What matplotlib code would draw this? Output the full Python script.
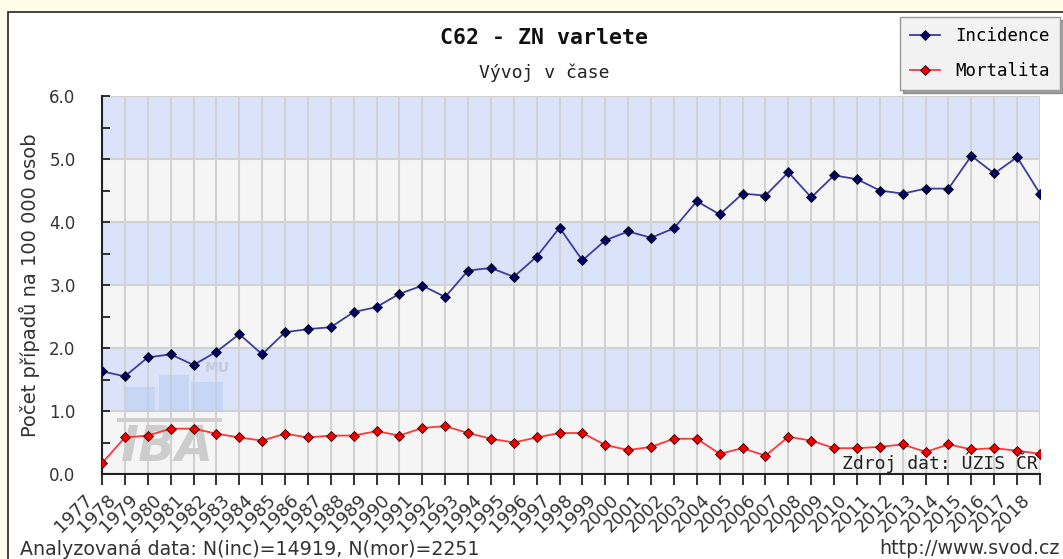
import matplotlib

matplotlib.use("Agg")
import matplotlib.pyplot as plt
import matplotlib.transforms as mtransforms
from matplotlib.patches import Rectangle

# ---------------------------------------------------------------------------
# Data
# ---------------------------------------------------------------------------

years = list(range(1977, 2019))

incidence = [
    1.63, 1.55, 1.85, 1.90, 1.73, 1.94, 2.22, 1.90, 2.25, 2.30,
    2.33, 2.57, 2.65, 2.86, 2.99, 2.81, 3.23, 3.27, 3.13, 3.45,
    3.91, 3.39, 3.71, 3.85, 3.75, 3.90, 4.33, 4.12, 4.45, 4.42,
    4.79, 4.39, 4.74, 4.68, 4.50, 4.45, 4.53, 4.53, 5.05, 4.77,
    5.03, 4.45,
]

mortality = [
    0.17, 0.58, 0.61, 0.72, 0.72, 0.64, 0.58, 0.53, 0.64, 0.58,
    0.61, 0.61, 0.68, 0.61, 0.73, 0.76, 0.65, 0.56, 0.50, 0.58,
    0.65, 0.65, 0.46, 0.38, 0.43, 0.56, 0.56, 0.32, 0.41, 0.29,
    0.59, 0.53, 0.41, 0.41, 0.43, 0.47, 0.35, 0.47, 0.39, 0.41,
    0.37, 0.32,
]

y_ticks = [0, 1, 2, 3, 4, 5, 6]
y_minor = [0.5, 1.5, 2.5, 3.5, 4.5, 5.5]

title = "C62 - ZN varlete"
subtitle = "Vývoj v čase"
y_label = "Počet případů na 100 000 osob"
source = "Zdroj dat: ÚZIS ČR"
footer_left = "Analyzovaná data: N(inc)=14919, N(mor)=2251"
footer_right = "http://www.svod.cz"

# ---------------------------------------------------------------------------
# Figure
# ---------------------------------------------------------------------------

W, H = 1063, 559
fig = plt.figure(figsize=(W / 100, H / 100), dpi=100)
fig.patch.set_facecolor("#fdfde9")

# white panel with dark frame (runs off the right / bottom edge)
fig.patches.append(
    Rectangle((8 / W, -0.2), 1.2, 0.2 + 1 - 12 / H, transform=fig.transFigure,
              facecolor="white", edgecolor="#222", linewidth=1.2, zorder=-10)
)

ax = fig.add_axes([102 / W, 1 - 474 / H, (1040 - 102) / W, (474 - 96) / H])
ax.set_facecolor("#f5f5f5")

# alternating bands
for i in range(6):
    ax.axhspan(i, i + 1, color="#dbe3fb" if i % 2 else "#f5f5f5", zorder=0, lw=0)

x = list(range(len(years)))
ax.plot(x, incidence, color="#3c3ca0", lw=1.3, marker="D", ms=5.5,
        mfc="#000060", mec="#111", mew=0.6, zorder=3, label="Incidence")
ax.plot(x, mortality, color="#ff3838", lw=1.3, marker="D", ms=5.5,
        mfc="#ee0000", mec="#300", mew=0.6, zorder=3, label="Mortalita")

ax.set_xlim(0, len(years) - 1)
ax.set_ylim(0, 6)

ax.set_axisbelow(True)
ax.grid(True, color="#d2d2d2", lw=1.5)

ax.set_yticks(y_ticks)
ax.set_yticklabels([f"{v:.1f}" for v in y_ticks])
ax.set_yticks(y_minor, minor=True)
ax.tick_params(axis="y", which="both", direction="in", length=6, width=1.3,
               color="#222", pad=19, labelsize=12, labelcolor="#333")

ax.set_xticks(x)
ax.set_xticklabels([str(y) for y in years], rotation=45, ha="right", va="top")
ax.tick_params(axis="x", direction="out", length=8, width=1.3, color="#222",
               pad=4, labelsize=13, labelcolor="#333")
offset = mtransforms.ScaledTranslation(-6 / 100, 0, fig.dpi_scale_trans)
for lbl in ax.get_xticklabels():
    lbl.set_transform(lbl.get_transform() + offset)

for side in ["top", "right"]:
    ax.spines[side].set_visible(False)
ax.spines["left"].set_color("#222")
ax.spines["left"].set_linewidth(1.5)
ax.spines["bottom"].set_color("#222")
ax.spines["bottom"].set_linewidth(1.5)

# IBA watermark (decorative)
wm = ax.transAxes
for bx, bw, bh in [(0.025, 0.031, 0.066), (0.061, 0.032, 0.098), (0.095, 0.034, 0.079)]:
    ax.add_patch(Rectangle((bx, 0.164), bw, bh, transform=wm,
                           facecolor="#b6cbf0", alpha=0.5, lw=0, zorder=1))
ax.add_patch(Rectangle((0.016, 0.137), 0.112, 0.011, transform=wm,
                       facecolor="#cfcfcf", lw=0, zorder=1))
ax.text(0.070, 0.008, "IBA", transform=wm, fontsize=35, fontweight="bold",
        fontstyle="italic", color="#cdcdcd", ha="center", va="bottom", zorder=1)
ax.text(0.123, 0.28, "MU", transform=wm, fontsize=10, fontweight="bold",
        color="#c2cadb", ha="center", va="center", zorder=1)

ax.text(0.998, 0.03, source, transform=ax.transAxes, ha="right", va="center",
        family="DejaVu Sans Mono", fontsize=13, color="#222", zorder=4)

# titles
fig.text(544 / W, 1 - 38 / H, title, ha="center", va="center",
         family="DejaVu Sans Mono", fontweight="bold", fontsize=15.5, color="#111")
fig.text(544 / W, 1 - 73 / H, subtitle, ha="center", va="center",
         family="DejaVu Sans Mono", fontsize=13, color="#222")

fig.text(30 / W, 1 - 285 / H, y_label, rotation=90, ha="center", va="center",
         fontsize=14, color="#333")

fig.text(20 / W, 1 - 549 / H, footer_left, ha="left", va="center",
         fontsize=13.7, color="#333")
fig.text(1060 / W, 1 - 549 / H, footer_right, ha="right", va="center",
         fontsize=13.7, color="#333")

leg = fig.legend(loc="upper left", bbox_to_anchor=(900 / W, 1 - 17 / H),
                 prop={"family": "DejaVu Sans Mono", "size": 12.5},
                 frameon=True, fancybox=False, shadow=True, borderaxespad=0,
                 handlelength=1.7, borderpad=0.6, labelspacing=0.95,
                 handletextpad=0.9)
leg.get_frame().set_facecolor("#f2f2f2")
leg.get_frame().set_edgecolor("#999")

fig.savefig("out.png", dpi=100)
